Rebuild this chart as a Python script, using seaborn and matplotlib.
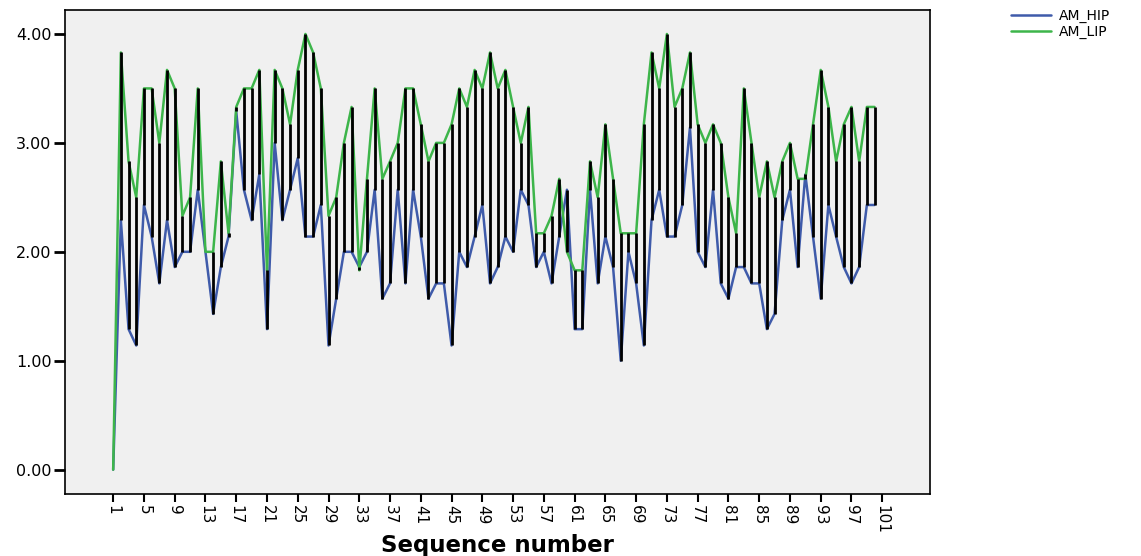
import numpy as np
import pandas as pd
import matplotlib
matplotlib.use("Agg")
import matplotlib.pyplot as plt
import seaborn as sns

sns.set_style("white")
plt.rcParams['font.family'] = ['DejaVu Sans']
plt.rcParams['text.color'] = 'black'
plt.rcParams['axes.labelcolor'] = 'black'
plt.rcParams['xtick.color'] = 'black'
plt.rcParams['ytick.color'] = 'black'

# sequence numbers (case 101 has no values)
seq = list(range(1, 102))

am_hip = [0.00, 2.29, 1.29, 1.14, 2.43, 2.14, 1.71, 2.29, 1.86, 2.00,
          2.00, 2.57, 2.00, 1.43, 1.86, 2.14, 3.29, 2.57, 2.29, 2.71,
          1.29, 3.00, 2.29, 2.57, 2.86, 2.14, 2.14, 2.43, 1.14, 1.57,
          2.00, 2.00, 1.86, 2.00, 2.57, 1.57, 1.71, 2.57, 1.71, 2.57,
          2.14, 1.57, 1.71, 1.71, 1.14, 2.00, 1.86, 2.14, 2.43, 1.71,
          1.86, 2.14, 2.00, 2.57, 2.43, 1.86, 2.00, 1.71, 2.14, 2.57,
          1.29, 1.29, 2.57, 1.71, 2.14, 1.86, 1.00, 2.00, 1.71, 1.14,
          2.29, 2.57, 2.14, 2.14, 2.43, 3.14, 2.00, 1.86, 2.57, 1.71,
          1.57, 1.86, 1.86, 1.71, 1.71, 1.29, 1.43, 2.29, 2.57, 1.86,
          2.71, 2.14, 1.57, 2.43, 2.14, 1.86, 1.71, 1.86, 2.43, 2.43,
          np.nan]

am_lip = [0.00, 3.83, 2.83, 2.50, 3.50, 3.50, 3.00, 3.67, 3.50, 2.33,
          2.50, 3.50, 2.00, 2.00, 2.83, 2.17, 3.33, 3.50, 3.50, 3.67,
          1.83, 3.67, 3.50, 3.17, 3.67, 4.00, 3.83, 3.50, 2.33, 2.50,
          3.00, 3.33, 1.83, 2.67, 3.50, 2.67, 2.83, 3.00, 3.50, 3.50,
          3.17, 2.83, 3.00, 3.00, 3.17, 3.50, 3.33, 3.67, 3.50, 3.83,
          3.50, 3.67, 3.33, 3.00, 3.33, 2.17, 2.17, 2.33, 2.67, 2.00,
          1.83, 1.83, 2.83, 2.50, 3.17, 2.67, 2.17, 2.17, 2.17, 3.17,
          3.83, 3.50, 4.00, 3.33, 3.50, 3.83, 3.17, 3.00, 3.17, 3.00,
          2.50, 2.17, 3.50, 3.00, 2.50, 2.83, 2.50, 2.83, 3.00, 2.67,
          2.67, 3.17, 3.67, 3.33, 2.83, 3.17, 3.33, 2.83, 3.33, 3.33,
          np.nan]

series_names = ['AM_HIP', 'AM_LIP']
colors = ['#3F5BAA', '#3DB54A']

df = pd.DataFrame({
    'seq': seq * 2,
    'value': am_hip + am_lip,
    'series': [series_names[0]] * len(seq) + [series_names[1]] * len(seq),
})

fig = plt.figure(figsize=(11.41, 5.56), dpi=100)
ax = fig.add_axes([0.0574, 0.1122, 0.7576, 0.8698])
ax.set_facecolor('#F0F0F0')

sns.lineplot(data=df, x='seq', y='value', hue='series', palette=colors,
             linewidth=1.8, ax=ax)

# high-low drop lines between the two series
hip = np.array(am_hip)
lip = np.array(am_lip)
ax.vlines(seq, np.minimum(hip, lip), np.maximum(hip, lip),
          color='black', linewidth=2, zorder=3)

ax.set_xlim(-5.2, 107.2)
ax.set_ylim(-0.22, 4.22)
ax.set_xticks(list(range(1, 102, 4)))
ax.set_xticklabels([str(t) for t in range(1, 102, 4)], rotation=-90, fontsize=11)
ax.set_yticks([0, 1, 2, 3, 4])
ax.set_yticklabels(['0.00', '1.00', '2.00', '3.00', '4.00'], fontsize=11.5)
ax.tick_params(axis='y', direction='out', length=8, width=2, left=True, pad=2)
ax.tick_params(axis='x', direction='out', length=6, width=1.5, bottom=True, pad=2)

for s in ax.spines.values():
    s.set_color('black')
    s.set_linewidth(1.2)

ax.set_ylabel('')
ax.set_xlabel('Sequence number', fontsize=16.5, fontweight='bold')
ax.xaxis.set_label_coords(0.5, -0.084)

handles, labels = ax.get_legend_handles_labels()
ax.get_legend().remove()
fig.legend(handles, labels, loc='upper left', bbox_to_anchor=(1005 / 1141, 1 - 3 / 556),
           frameon=False, fontsize=10, handlelength=2.9, labelspacing=0.15,
           borderaxespad=0, handletextpad=0.6)

fig.savefig('out.png', dpi=100)
